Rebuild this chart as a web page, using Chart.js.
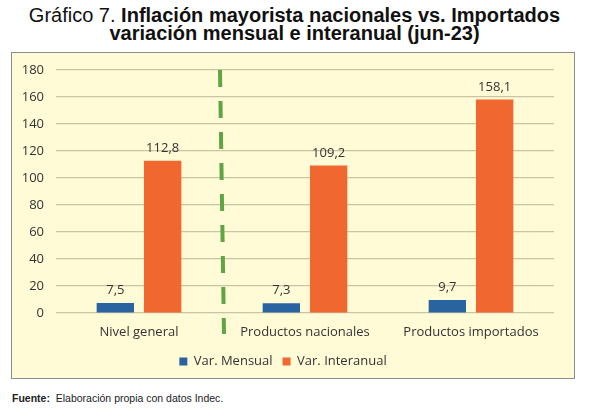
<!DOCTYPE html>
<html lang="es">
<head>
<meta charset="UTF-8">
<title>Gráfico 7</title>
<script src="https://cdn.jsdelivr.net/npm/chart.js"></script>
<style>
    body {
        margin: 0;
        width: 589px;
        height: 413px;
        background: #fff;
        position: relative;
        font-family: "Liberation Sans", Arial, sans-serif;
    }
    #title {
        position: absolute;
        top: 6px;
        left: 0;
        width: 589px;
        text-align: center;
        font-size: 20px;
        line-height: 18px;
        color: #111;
    }
    #title b { font-weight: bold; }
    #box {
        position: absolute;
        left: 11px;
        top: 52px;
        width: 562px;
        height: 325px;
        border: 1px solid #8c8c8c;
        background: #fffbd6;
    }
    #footer {
        position: absolute;
        left: 12px;
        top: 392px;
        font-size: 10.5px;
        color: #222;
    }
</style>
</head>
<body>
<div id="title">Gráfico 7. <b>Inflación mayorista nacionales vs. Importados</b><br><b>variación mensual e interanual (jun-23)</b></div>
<div id="box"><canvas id="chart" width="562" height="325"></canvas></div>
<div id="footer"><b>Fuente:</b>&nbsp; Elaboración propia con datos Indec.</div>

<script>
    const categories = ['Nivel general', 'Productos nacionales', 'Productos importados'];
    const mensual = [7.5, 7.3, 9.7];
    const interanual = [112.8, 109.2, 158.1];
    const yTicks = [0, 20, 40, 60, 80, 100, 120, 140, 160, 180];

    const labelFont = '"Open Sans", "Liberation Sans", sans-serif';

    // values above each bar, with comma decimals
    const valueLabels = {
        id: 'valueLabels',
        afterDatasetsDraw(chart) {
            const ctx = chart.ctx;
            ctx.save();
            ctx.font = '13px ' + labelFont;
            ctx.fillStyle = '#333';
            ctx.textAlign = 'center';
            ctx.textBaseline = 'bottom';
            chart.data.datasets.forEach((ds, i) => {
                chart.getDatasetMeta(i).data.forEach((bar, j) => {
                    ctx.fillText(ds.data[j].toFixed(1).replace('.', ','), bar.x, bar.y - 6);
                });
            });
            ctx.restore();
        }
    };

    // dashed green separator between the first and second category
    const separator = {
        id: 'separator',
        afterDatasetsDraw(chart) {
            const xs = chart.scales.x;
            const ys = chart.scales.y;
            const x = (xs.getPixelForValue(0) + xs.getPixelForValue(1)) / 2;
            const ctx = chart.ctx;
            ctx.save();
            ctx.strokeStyle = '#5fa544';
            ctx.lineWidth = 4;
            ctx.setLineDash([17, 14]);
            ctx.beginPath();
            ctx.moveTo(x - 2, ys.getPixelForValue(180));
            ctx.lineTo(x + 2, ys.bottom + 21);
            ctx.stroke();
            ctx.restore();
        }
    };

    new Chart(document.getElementById('chart'), {
        type: 'bar',
        data: {
            labels: categories,
            datasets: [
                {
                    label: 'Var. Mensual',
                    data: mensual,
                    backgroundColor: '#2a64a0'
                },
                {
                    label: 'Var. Interanual',
                    data: interanual,
                    backgroundColor: '#f0672f'
                }
            ]
        },
        options: {
            responsive: false,
            animation: false,
            devicePixelRatio: 1,
            categoryPercentage: 0.57,
            barPercentage: 0.79,
            layout: { padding: { top: 17, right: 20, left: 0, bottom: 0 } },
            plugins: {
                legend: {
                    position: 'bottom',
                    labels: {
                        boxWidth: 8,
                        boxHeight: 8,
                        padding: 10,
                        color: '#333',
                        font: { family: labelFont, size: 13 }
                    }
                },
                tooltip: { enabled: false }
            },
            scales: {
                x: {
                    grid: { display: false, drawTicks: false },
                    border: { display: false },
                    ticks: {
                        padding: 11,
                        color: '#333',
                        font: { family: labelFont, size: 13 }
                    },
                    afterFit(scale) { scale.height = 32; }
                },
                y: {
                    min: 0,
                    max: 180,
                    afterBuildTicks(scale) {
                        scale.ticks = yTicks.map(v => ({ value: v }));
                    },
                    grid: { color: '#c9c4a4', lineWidth: 1.2, drawTicks: false },
                    border: { display: false },
                    ticks: {
                        padding: 12,
                        color: '#333',
                        font: { family: labelFont, size: 13, lineHeight: 1 }
                    },
                    afterFit(scale) {
                        scale.width = 44;
                        scale.paddingTop = 0;
                    }
                }
            }
        },
        plugins: [valueLabels, separator]
    });
</script>
</body>
</html>
